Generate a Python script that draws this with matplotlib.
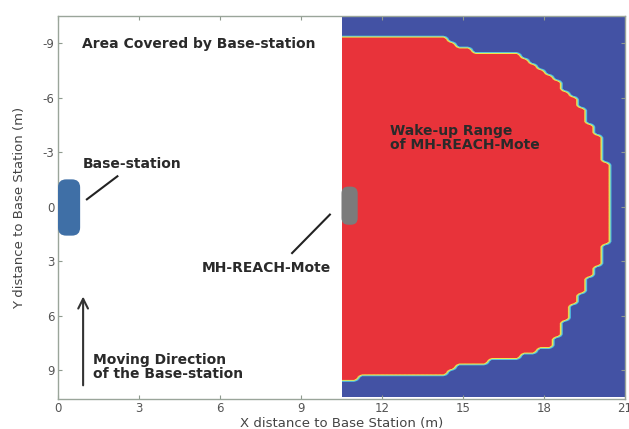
import numpy as np
import matplotlib
matplotlib.use('Agg')
import matplotlib.pyplot as plt
from matplotlib.colors import LinearSegmentedColormap
from matplotlib.patches import FancyBboxPatch
from matplotlib.path import Path as MplPath

plt.rcParams['axes.unicode_minus'] = False

# boundary of the wake-up range (x, y in m)
range_x = [10.5, 11.0, 11.1, 14.4, 14.6, 15.1, 16.9, 17.3, 17.85, 18.6, 19.3, 20.07, 20.4, 20.45,
           20.4, 20.07, 19.3, 18.6, 18.1, 16.9, 15.0, 14.6, 14.4, 11.1, 10.9, 10.5]
range_y = [-9.4, -9.4, -9.2, -9.2, -8.9, -8.6, -8.3, -8.0, -7.6, -6.7, -5.4, -3.5, -1.5, 0.0,
           1.67, 2.9, 4.8, 6.8, 7.8, 8.4, 8.67, 8.9, 9.33, 9.33, 9.6, 9.6]

xticks = [0, 3, 6, 9, 12, 15, 18, 21]
yticks = [-9, -6, -3, 0, 3, 6, 9]

# grid of the simulated field (right half)
cell = 0.3
gx = np.arange(10.5 + cell / 2, 21, cell)
gy = np.arange(-10.5 + cell / 2, 10.6, cell)
XX, YY = np.meshgrid(gx, gy)
poly = MplPath(np.column_stack([range_x, range_y]))
field = poly.contains_points(np.column_stack([XX.ravel(), YY.ravel()])).reshape(XX.shape).astype(float)

cmap = LinearSegmentedColormap.from_list('wake', [
    (0.0, '#4352a4'), (0.22, '#4352a4'), (0.36, '#4fc3e6'),
    (0.56, '#f3e84a'), (0.72, '#e8333a'), (1.0, '#e8333a')])

fig = plt.figure(figsize=(6.29, 4.29), dpi=100)
ax = fig.add_axes([58 / 629, 1 - 399 / 429, 567 / 629, 383 / 429])

ax.imshow(field, cmap=cmap, vmin=0, vmax=1, interpolation='bilinear',
          extent=[10.5, 21, gy[-1] + cell / 2, -10.5], aspect='auto', zorder=1)

ax.set_xlim(0, 21)
ax.set_ylim(10.6, -10.5)
ax.set_xticks(xticks)
ax.set_yticks(yticks)
ax.tick_params(direction='in', top=True, right=True, length=3, color='#8f9a8f',
               labelsize=8.5, labelcolor='#555555', pad=2.5)
for s in ax.spines.values():
    s.set_color('#9aa59a')
    s.set_linewidth(1.0)

ax.set_xlabel('X distance to Base Station (m)', fontsize=9.5, color='#444444', labelpad=1)
ax.set_ylabel('Y distance to Base Station (m)', fontsize=9.5, color='#444444', labelpad=12)

# base station and mote
ax.add_patch(FancyBboxPatch((0.0, -1.5), 0.82, 3.1, boxstyle='round,pad=0,rounding_size=0.3',
                            fc='#3f6fa6', ec='none', zorder=3, mutation_aspect=1.5))
ax.add_patch(FancyBboxPatch((10.5, -1.1), 0.6, 2.1, boxstyle='round,pad=0,rounding_size=0.25',
                            fc='#7b7b7b', ec='none', zorder=3, mutation_aspect=1.5))

tk = dict(fontsize=10, fontweight='bold', color='#2a2a2a', zorder=4)
ax.text(0.9, -8.95, 'Area Covered by Base-station', va='center', ha='left', **tk)
ax.text(0.9, -2.35, 'Base-station', va='center', ha='left', **tk)
ax.text(10.1, 3.4, 'MH-REACH-Mote', va='center', ha='right', **tk)
ax.text(12.3, -3.8, 'Wake-up Range\nof MH-REACH-Mote', va='center', ha='left',
        linespacing=1.0, **tk)
ax.text(1.3, 8.85, 'Moving Direction\nof the Base-station', va='center', ha='left',
        linespacing=1.0, **tk)

ax.plot([1.07, 2.2], [-0.4, -1.67], color='#222222', lw=1.5, zorder=4)
ax.plot([8.67, 10.07], [2.56, 0.44], color='#222222', lw=1.5, zorder=4)
ax.annotate('', xy=(0.93, 4.8), xytext=(0.93, 10.0),
            arrowprops=dict(arrowstyle='->,head_length=0.7,head_width=0.35',
                            color='#333333', lw=1.5), zorder=4)

fig.savefig('out.png', dpi=100)
